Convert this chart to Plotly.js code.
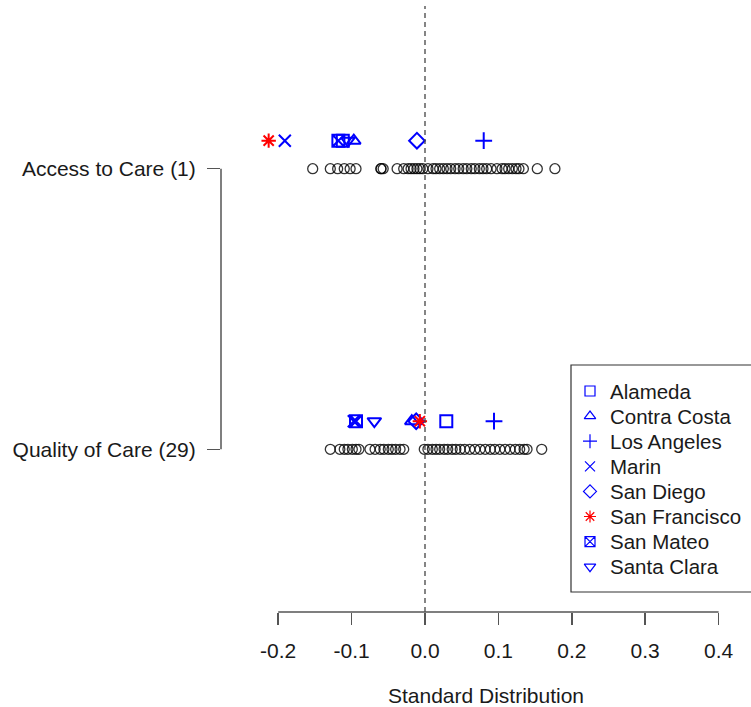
<!DOCTYPE html>
<html>
<head>
<meta charset="utf-8">
<script src="https://cdn.plot.ly/plotly-3.0.1.min.js"></script>
<style>html,body{margin:0;padding:0;background:#fff;}#chart{width:751px;height:707px;}</style>
</head>
<body>
<div id="chart"></div>
<script>
// ---- data ----
var measures = ["Quality of Care (29)", "Access to Care (1)"];
var measurePos = [1, 2];

// distribution of all counties (open circles)
var accessAll = [-0.153, -0.129, -0.119, -0.110, -0.102, -0.094, -0.060, -0.060, -0.057, -0.038,
  -0.029, -0.023, -0.019, -0.015, -0.011, -0.007, -0.003, 0.004, 0.011, 0.015, 0.020, 0.025,
  0.030, 0.035, 0.041, 0.046, 0.052, 0.057, 0.063, 0.068, 0.074, 0.079, 0.084, 0.090, 0.098,
  0.105, 0.109, 0.114, 0.119, 0.124, 0.128, 0.134, 0.153, 0.177];
var qualityAll = [-0.129, -0.116, -0.110, -0.105, -0.099, -0.094, -0.090, -0.075, -0.068, -0.061,
  -0.056, -0.050, -0.045, -0.040, -0.034, -0.029, -0.001, 0.004, 0.010, 0.015, 0.020, 0.026,
  0.031, 0.037, 0.042, 0.048, 0.054, 0.061, 0.068, 0.075, 0.082, 0.089, 0.095, 0.102, 0.109,
  0.116, 0.123, 0.129, 0.135, 0.139, 0.159];

// highlighted counties
var counties = ["Alameda", "Contra Costa", "Los Angeles", "Marin", "San Diego", "San Francisco", "San Mateo", "Santa Clara"];
var countyQuality = [0.029, -0.018, 0.094, -0.097, -0.012, -0.007, -0.094, -0.069];
var countyAccess  = [-0.112, -0.097, 0.080, -0.191, -0.011, -0.213, -0.118, -0.105];
var countySymbols = ["square-open", "triangle-up-open", "cross-thin-open", "x-thin-open", "diamond-open", "asterisk-open", "square-x-open", "triangle-down-open"];
var countyColors  = ["#0000ff", "#0000ff", "#0000ff", "#0000ff", "#0000ff", "#ff0000", "#0000ff", "#0000ff"];

var xTicks = [-0.2, -0.1, 0.0, 0.1, 0.2, 0.3, 0.4];
var xTickText = ["-0.2", "-0.1", "0.0", "0.1", "0.2", "0.3", "0.4"];

// ---- layout geometry (pixels) ----
var W = 751, H = 707;
var plotL = 221, plotR = 751, plotT = 6, plotB = 612;
var legL = 571, legT = 365, legB = 592, legSymX = 590, legTextX = 608, legY0 = 391, legStep = 25.1;

// ---- traces ----
var traces = [];
function rep(v, n){ var a=[]; for(var i=0;i<n;i++) a.push(v); return a; }
traces.push({
  x: accessAll.concat(qualityAll),
  y: rep(measurePos[1], accessAll.length).concat(rep(measurePos[0], qualityAll.length)),
  type: "scatter", mode: "markers", showlegend: false, hoverinfo: "x",
  marker: {symbol: "circle-open", size: 10, color: "rgba(0,0,0,0.8)", line: {width: 1.3}}
});
var offset = 0.1;
for (var i = 0; i < counties.length; i++) {
  traces.push({
    name: counties[i],
    x: [countyQuality[i], countyAccess[i]],
    y: [measurePos[0] + offset, measurePos[1] + offset],
    type: "scatter", mode: "markers", showlegend: false,
    marker: {symbol: countySymbols[i], size: 12, color: countyColors[i], line: {width: 2, color: countyColors[i]}}
  });
}
// legend keys on a pixel-scaled overlay axis
var font = {family: "Liberation Sans, Arial, sans-serif", size: 21, color: "#1a1a1a"};
var annotations = [];
for (var j = 0; j < counties.length; j++) {
  var ly = legY0 + j * legStep;
  traces.push({
    x: [legSymX], y: [ly], xaxis: "x2", yaxis: "y2",
    type: "scatter", mode: "markers", showlegend: false, hoverinfo: "skip",
    marker: {symbol: countySymbols[j], size: 10, color: countyColors[j], line: {width: 1.2, color: countyColors[j]}}
  });
  annotations.push({
    xref: "x2", yref: "y2", x: legTextX, y: ly, text: counties[j],
    showarrow: false, xanchor: "left", yanchor: "middle",
    font: {family: font.family, size: 20.5, color: "#1a1a1a"}
  });
}

var layout = {
  width: W, height: H,
  margin: {l: plotL, r: W - plotR, t: plotT, b: H - plotB, pad: 0},
  paper_bgcolor: "#fff", plot_bgcolor: "#fff",
  font: font,
  showlegend: false,
  annotations: annotations,
  xaxis: {
    range: [(plotL-425)/734, (plotR-425)/734],
    tickmode: "array", tickvals: xTicks, ticktext: xTickText,
    ticks: "outside", ticklen: 12, tickwidth: 1.5, tickcolor: "#555",
    showgrid: false, zeroline: false, showline: false,
    ticklabelstandoff: 8,
    title: {text: "Standard Distribution", font: font, standoff: 30}
  },
  yaxis: {
    range: [0.42, 2.58],
    tickmode: "array", tickvals: measurePos, ticktext: measures,
    ticks: "outside", ticklen: 13, tickwidth: 1.5, tickcolor: "#555",
    showgrid: false, zeroline: false, showline: false,
    ticklabelstandoff: 7
  },
  xaxis2: {overlaying: "x", range: [plotL, plotR], visible: false, fixedrange: true},
  yaxis2: {overlaying: "y", range: [plotB, plotT], visible: false, fixedrange: true},
  shapes: [
    {type: "line", xref: "x", yref: "paper", x0: 0, x1: 0, y0: 0, y1: 1,
     line: {color: "#444", width: 1.3, dash: "5px,4px"}},
    {type: "line", xref: "x", yref: "paper", x0: -0.2, x1: 0.4, y0: 0, y1: 0,
     line: {color: "#555", width: 1.5}},
    {type: "line", xref: "paper", yref: "y", x0: 0, x1: 0, y0: 1, y1: 2,
     line: {color: "#555", width: 1.5}},
    {type: "rect", xref: "x2", yref: "y2", x0: legL, x1: plotR + 3, y0: legT, y1: legB,
     line: {color: "#333", width: 1.2}, fillcolor: "rgba(255,255,255,1)", layer: "below"}
  ]
};
Plotly.newPlot("chart", traces, layout, {displayModeBar: false, staticPlot: true});
</script>
</body>
</html>
